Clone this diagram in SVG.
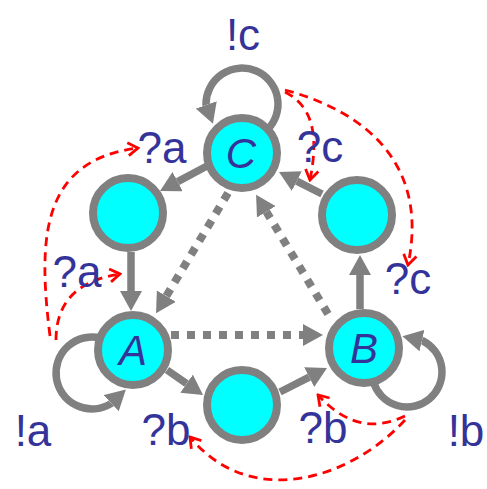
<svg xmlns="http://www.w3.org/2000/svg" width="487" height="489" viewBox="0 0 487 489">
<style>
.node{fill:#00FFFF;stroke:#808080;stroke-width:8}
.edge{fill:none;stroke:#808080;stroke-width:7.5}
.dot{fill:none;stroke:#808080;stroke-width:8;stroke-dasharray:8 8}
.red{fill:none;stroke:#FF0000;stroke-width:2.8;stroke-dasharray:9 6}
.lbl{font-family:"Liberation Sans",Arial,sans-serif;font-size:44px;fill:#333399;text-anchor:middle}
.nlbl{font-family:"Liberation Sans",Arial,sans-serif;font-size:42px;font-style:italic;fill:#333399;text-anchor:middle}
</style>
<defs>
<marker id="ah" markerUnits="userSpaceOnUse" viewBox="0 -11 20 22" refX="0" refY="0" markerWidth="20" markerHeight="22" orient="auto">
<path d="M0,-11 L20,0 L0,11 z" fill="#808080"/>
</marker>
<marker id="rh" markerUnits="userSpaceOnUse" viewBox="-13 -9 15 18" refX="0" refY="0" markerWidth="15" markerHeight="18" orient="auto">
<path d="M-10,-6.5 L0,0 L-10,6.5" fill="none" stroke="#FF0000" stroke-width="2.8" stroke-dasharray="none"/>
</marker>
</defs>
<g id="connectors">
<path class="edge" d="M207,166 L177.7,181.6" marker-end="url(#ah)"/>
<path class="edge" d="M131,252 L131,291" marker-end="url(#ah)"/>
<path class="edge" d="M167,370 L186.6,383.6" marker-end="url(#ah)"/>
<path class="edge" d="M280,392 L309.2,377.1" marker-end="url(#ah)"/>
<path class="edge" d="M360,309 L360,275" marker-end="url(#ah)"/>
<path class="edge" d="M322,194 L296.8,181.1" marker-end="url(#ah)"/>
<path class="dot" d="M228,193 L166.3,296.1" marker-end="url(#ah)"/>
<path class="dot" d="M171,335 L303,335" marker-end="url(#ah)"/>
<path class="dot" d="M328,314 L266.4,211.8" marker-end="url(#ah)"/>
<path class="edge" d="M267.5,129.5 A36,36 0 1 0 206,104 l0.33,0.94" marker-end="url(#ah)"/>
<path class="edge" d="M101.3,338.2 A36,36 0 1 0 110.5,403.9 l0.73,-0.68" marker-end="url(#ah)"/>
<path class="edge" d="M373.5,382.2 A35,35 0 1 0 422.9,340.8 l-0.975,-0.22" marker-end="url(#ah)"/>
<path class="red" d="M50,336 C38,240 40,160 138,148" marker-end="url(#rh)"/>
<path class="red" d="M56,340 C56,300 80,280 120,274" marker-end="url(#rh)"/>
<path class="red" d="M285,92 C310,105 320,130 310,180" marker-end="url(#rh)"/>
<path class="red" d="M285,90 C360,110 430,160 408,265" marker-end="url(#rh)"/>
<path class="red" d="M405,416 C380,428 350,430 318,395" marker-end="url(#rh)"/>
<path class="red" d="M405,420 C350,480 250,510 190,437" marker-end="url(#rh)"/>
</g>
<g id="node-C"><circle class="node" cx="242" cy="153" r="35"/><text class="nlbl" x="241" y="168">C</text></g>
<g id="node-TL"><circle class="node" cx="128" cy="213" r="35"/></g>
<g id="node-TR"><circle class="node" cx="357" cy="215" r="35"/></g>
<g id="node-A"><circle class="node" cx="133" cy="350" r="35"/><text class="nlbl" x="133" y="365">A</text></g>
<g id="node-B"><circle class="node" cx="364" cy="348" r="35"/><text class="nlbl" x="364" y="363">B</text></g>
<g id="node-bottom"><circle class="node" cx="242" cy="405" r="35"/></g>
<g id="labels">
<text class="lbl" x="243" y="50">!c</text>
<text class="lbl" x="162" y="163">?a</text>
<text class="lbl" x="320" y="162">?c</text>
<text class="lbl" x="77" y="287">?a</text>
<text class="lbl" x="408" y="294">?c</text>
<text class="lbl" x="33" y="446">!a</text>
<text class="lbl" x="166" y="445">?b</text>
<text class="lbl" x="323" y="443">?b</text>
<text class="lbl" x="466" y="446">!b</text>
</g>
</svg>
